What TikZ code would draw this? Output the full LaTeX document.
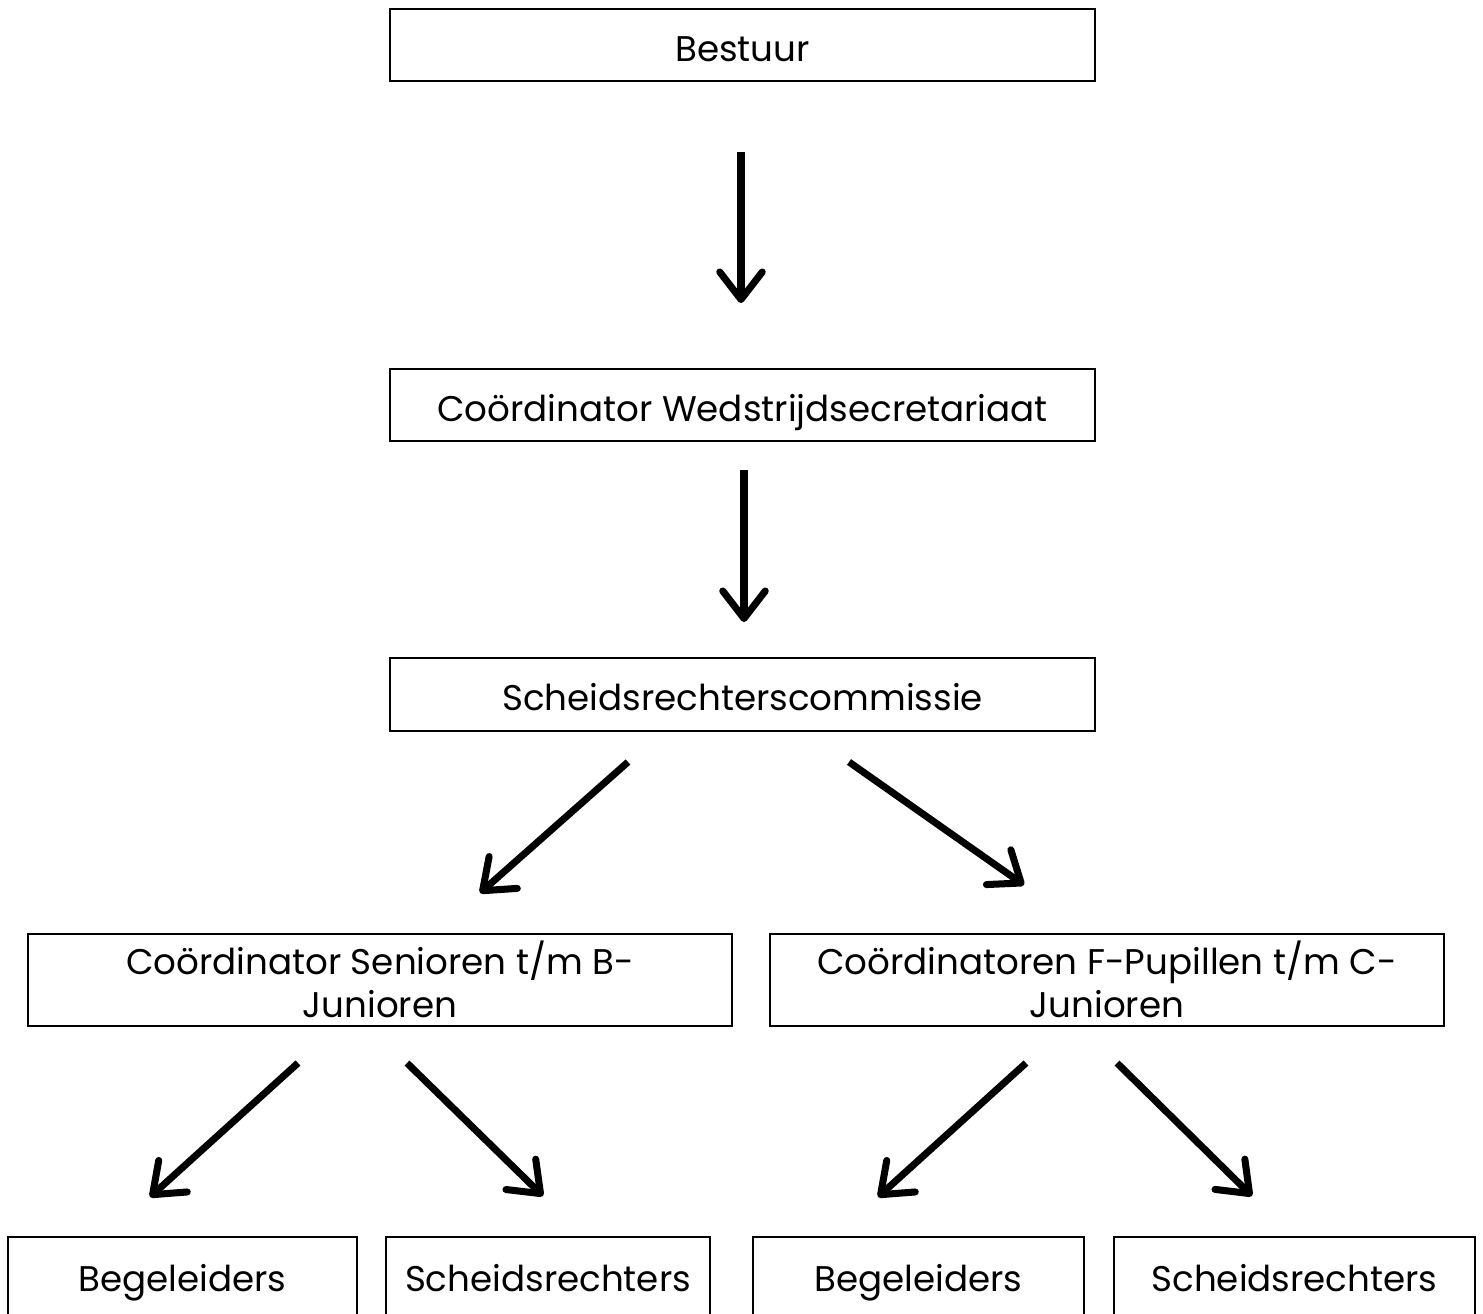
\documentclass[tikz,border=0pt]{standalone}
\usepackage{fontspec}
\setmainfont{Poppins}
\usetikzlibrary{arrows.meta}
\begin{document}
\begin{tikzpicture}[x=0.02cm,y=-0.02cm,
  box/.style={draw, line width=1.2pt, inner sep=0pt},
  lbl/.style={font=\fontsize{20.3}{25}\selectfont, anchor=base, inner sep=0pt},
  arr/.style={line width=4pt, -{Straight Barb[length=0.55cm,width=0.85cm,round]}}]
\useasboundingbox (0,0) rectangle (1483,1313);
\node[box, minimum width=705*0.02cm, minimum height=72*0.02cm] (bestuur) at (742.5,45) {};
\node[box, minimum width=705*0.02cm, minimum height=72*0.02cm] (coord) at (742.5,405) {};
\node[box, minimum width=705*0.02cm, minimum height=73*0.02cm] (scheids) at (742.5,694.5) {};
\node[box, minimum width=704*0.02cm, minimum height=92*0.02cm] (sen) at (380,980) {};
\node[box, minimum width=674*0.02cm, minimum height=92*0.02cm] (pup) at (1107,980) {};
\node[box, minimum width=349*0.02cm, minimum height=100*0.02cm] (beg1) at (182.5,1287) {};
\node[box, minimum width=324*0.02cm, minimum height=100*0.02cm] (sch1) at (548,1287) {};
\node[box, minimum width=331*0.02cm, minimum height=100*0.02cm] (beg2) at (918.5,1287) {};
\node[box, minimum width=361*0.02cm, minimum height=100*0.02cm] (sch2) at (1294.5,1287) {};
\node[lbl] (tbestuur) at (742.5,61) {Bestuur};
\node[lbl] (tcoord) at (742.5,421) {Coördinator Wedstrijdsecretariaat};
\node[lbl] (tscheids) at (742.5,710) {Scheidsrechterscommissie};
\node[lbl] (tsen1) at (380,974) {Coördinator Senioren t/m B-};
\node[lbl] (tsen2) at (380,1017) {Junioren};
\node[lbl] (tpup1) at (1107,974) {Coördinatoren F-Pupillen t/m C-};
\node[lbl] (tpup2) at (1107,1017) {Junioren};
\node[lbl] (tbeg1) at (182.5,1291) {Begeleiders};
\node[lbl] (tsch1) at (548,1291) {Scheidsrechters};
\node[lbl] (tbeg2) at (918.5,1291) {Begeleiders};
\node[lbl] (tsch2) at (1294.5,1291) {Scheidsrechters};
\coordinate (a1s) at (741,152); \coordinate (a1e) at (741,303);
\coordinate (a2s) at (744,470); \coordinate (a2e) at (744,622);
\coordinate (a3s) at (628,762); \coordinate (a3e) at (480,893);
\coordinate (a4s) at (849,762); \coordinate (a4e) at (1024,885);
\coordinate (a5s) at (298,1063); \coordinate (a5e) at (150,1197);
\coordinate (a6s) at (407,1063); \coordinate (a6e) at (543,1196);
\coordinate (a7s) at (1026,1063); \coordinate (a7e) at (878,1197);
\coordinate (a8s) at (1117,1063); \coordinate (a8e) at (1252,1196);
\foreach \i in {1,...,8} {\draw[arr] (a\i s) -- (a\i e);}
\end{tikzpicture}
\end{document}
